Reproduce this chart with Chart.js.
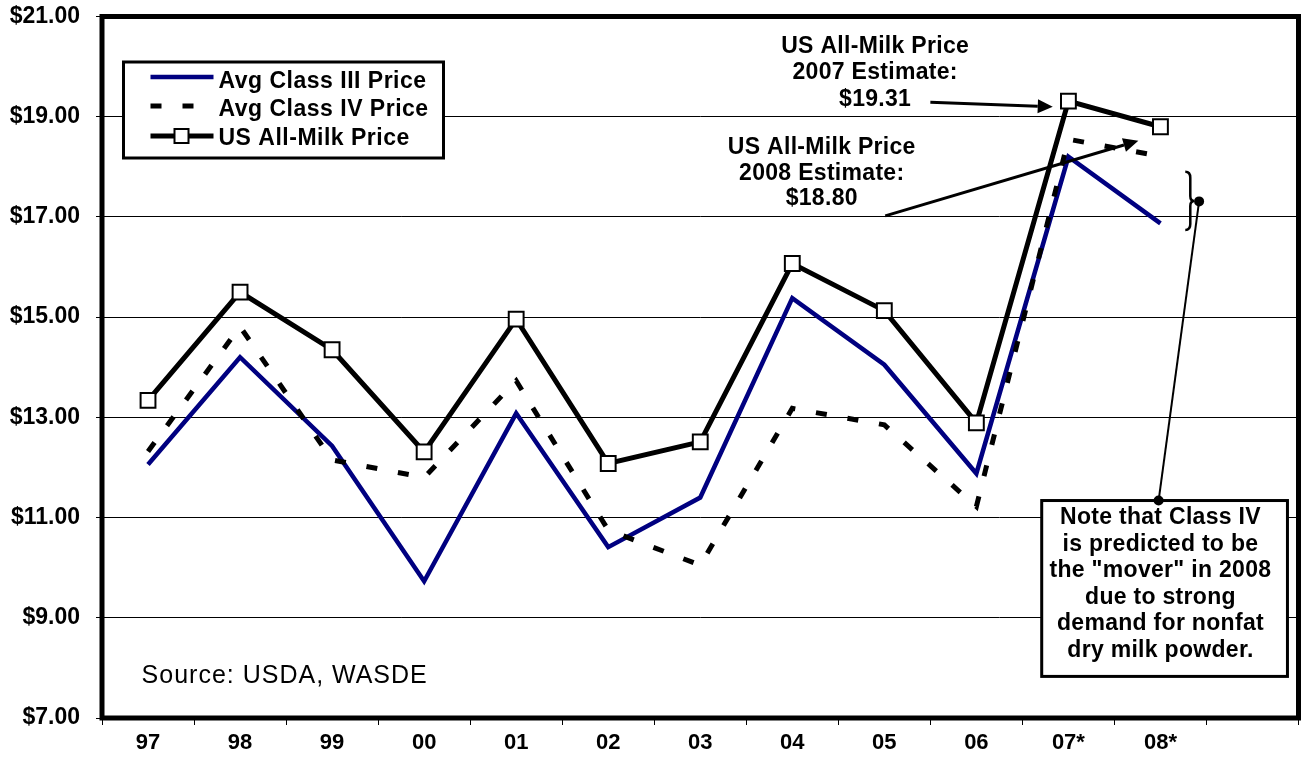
<!DOCTYPE html>
<html>
<head>
<meta charset="utf-8">
<script src="https://cdn.jsdelivr.net/npm/chart.js"></script>
<style>
html,body{margin:0;padding:0;background:#fff;overflow:hidden;}
#wrap{width:1301px;height:761px;overflow:hidden;}
canvas{display:block;}
</style>
</head>
<body>
<div id="wrap"><canvas id="c" width="1311" height="761"></canvas></div>
<script>
// ---- data ----
const categories = ['97','98','99','00','01','02','03','04','05','06','07*','08*',''];
const classIII = [12.06,14.20,12.43,9.73,13.08,10.41,11.40,15.38,14.05,11.88,18.20,16.87,null];
const classIV  = [12.32,14.81,12.15,11.80,13.73,10.75,10.05,13.18,12.85,11.22,18.55,18.21,null];
const allMilk  = [13.34,15.50,14.35,12.31,14.96,12.08,12.51,16.07,15.13,12.89,19.31,18.80,null];
const seriesNames = ['Avg Class III Price','Avg Class IV Price','US All-Milk Price'];
const yTicks = [7,9,11,13,15,17,19,21];

const note1 = ['US All-Milk Price','2007 Estimate:','$19.31'];
const note2 = ['US All-Milk Price','2008 Estimate:','$18.80'];
const noteBox = ['Note that Class IV','is predicted to be','the "mover" in 2008','due to strong','demand for nonfat','dry milk powder.'];
const sourceText = 'Source: USDA, WASDE';

const FONT = '"Liberation Sans", Arial, Helvetica, sans-serif';

const overlay = {
  id: 'overlay',
  afterDraw(chart) {
    const ctx = chart.ctx, ca = chart.chartArea;
    const xs = chart.scales.x, ys = chart.scales.y;
    const X = v => xs.getPixelForValue(v), Y = v => ys.getPixelForValue(v);
    ctx.save();
    // frame
    ctx.strokeStyle = '#000'; ctx.lineWidth = 5; ctx.setLineDash([]);
    ctx.strokeRect(ca.left, ca.top, ca.right - ca.left, ca.bottom - ca.top);

    // legend
    const lx = ca.left + 21.5, ly = ca.top + 45.5;
    ctx.fillStyle = '#fff'; ctx.fillRect(lx, ly, 320, 96);
    ctx.lineWidth = 3; ctx.strokeStyle = '#000'; ctx.strokeRect(lx, ly, 320, 96);
    const ds = chart.data.datasets;
    const rows = [ly + 20, ly + 48, ly + 77];
    ctx.font = 'bold 23px ' + FONT; ctx.textBaseline = 'middle'; ctx.textAlign = 'left';
    try { ctx.letterSpacing = '0.5px'; } catch (e) {}
    [0,1,2].forEach((di, k) => {
      const d = ds[di];
      const sy = rows[k] - (k === 0 ? 5 : (k === 1 ? 4 : 3));
      ctx.save();
      ctx.strokeStyle = d.borderColor; ctx.lineWidth = d.borderWidth;
      ctx.setLineDash(d.borderDash || []);
      ctx.lineCap = 'butt';
      ctx.beginPath(); ctx.moveTo(lx + 27, sy); ctx.lineTo(lx + 90, sy); ctx.stroke();
      ctx.restore();
      if (d.pointRadius) {
        ctx.fillStyle = '#fff'; ctx.strokeStyle = '#000'; ctx.lineWidth = 2;
        ctx.fillRect(lx + 51, sy - 7, 14, 14); ctx.strokeRect(lx + 51, sy - 7, 14, 14);
      }
      ctx.fillStyle = '#000';
      ctx.fillText(d.label, lx + 95, rows[k]);
    });

    // text annotations
    ctx.fillStyle = '#000'; ctx.textAlign = 'center'; ctx.textBaseline = 'middle';
    ctx.font = 'bold 23px ' + FONT;
    try { ctx.letterSpacing = '0.3px'; } catch (e) {}
    const drawLines = (lines, cx, cy, lh) => lines.forEach((t, i) => ctx.fillText(t, cx, cy + i * lh));
    drawLines(note1, X(7.9), Y(20.40), 26.3);
    drawLines(note2, X(7.32), Y(18.38), 25.5);

    // arrows
    const arrow = (x1, y1, x2, y2) => {
      const a = Math.atan2(y2 - y1, x2 - x1), L = 15, W = 7;
      ctx.strokeStyle = '#000'; ctx.lineWidth = 3;
      ctx.beginPath(); ctx.moveTo(x1, y1);
      ctx.lineTo(x2 - L * Math.cos(a), y2 - L * Math.sin(a)); ctx.stroke();
      ctx.fillStyle = '#000'; ctx.beginPath();
      ctx.moveTo(x2, y2);
      ctx.lineTo(x2 - L * Math.cos(a) + W * Math.sin(a), y2 - L * Math.sin(a) - W * Math.cos(a));
      ctx.lineTo(x2 - L * Math.cos(a) - W * Math.sin(a), y2 - L * Math.sin(a) + W * Math.cos(a));
      ctx.closePath(); ctx.fill();
    };
    arrow(X(8.5), Y(19.29), X(9.83), Y(19.20));
    arrow(X(8.01), Y(17.02), X(10.76), Y(18.52));

    // brace
    const bx = X(11.27), bt = Y(17.90), bb = Y(16.74), bm = (bt + bb) / 2;
    ctx.strokeStyle = '#000'; ctx.lineWidth = 2.5;
    ctx.beginPath();
    ctx.moveTo(bx, bt);
    ctx.quadraticCurveTo(bx + 5, bt, bx + 5, bt + 6);
    ctx.lineTo(bx + 5, bm - 5);
    ctx.quadraticCurveTo(bx + 5, bm, bx + 9, bm);
    ctx.quadraticCurveTo(bx + 5, bm, bx + 5, bm + 5);
    ctx.lineTo(bx + 5, bb - 6);
    ctx.quadraticCurveTo(bx + 5, bb, bx, bb);
    ctx.stroke();

    // connector
    const d1x = X(11.42), d1y = Y(17.31), d2x = X(10.98), d2y = Y(11.34);
    ctx.lineWidth = 2; ctx.beginPath(); ctx.moveTo(d1x, d1y); ctx.lineTo(d2x, d2y); ctx.stroke();
    ctx.fillStyle = '#000';
    ctx.beginPath(); ctx.arc(d1x, d1y, 5, 0, Math.PI * 2); ctx.fill();

    // note box
    const nx1 = X(9.71), nx2 = X(12.38), ny1 = Y(11.34), ny2 = Y(7.83);
    ctx.fillStyle = '#fff'; ctx.fillRect(nx1, ny1, nx2 - nx1, ny2 - ny1);
    ctx.strokeStyle = '#000'; ctx.lineWidth = 3; ctx.strokeRect(nx1, ny1, nx2 - nx1, ny2 - ny1);
    ctx.beginPath(); ctx.arc(d2x, d2y, 5, 0, Math.PI * 2); ctx.fillStyle = '#000'; ctx.fill();
    ctx.fillStyle = '#000'; ctx.font = 'bold 23px ' + FONT;
    drawLines(noteBox, X(11.0), Y(11.0), 26.6);

    // source
    ctx.font = '25px ' + FONT; ctx.textAlign = 'left';
    try { ctx.letterSpacing = '1px'; } catch (e) {}
    ctx.fillText(sourceText, X(-0.07), Y(7.84));
    ctx.restore();
  }
};

new Chart(document.getElementById('c'), {
  type: 'line',
  data: {
    labels: categories,
    datasets: [
      { label: seriesNames[0], data: classIII, borderColor: '#000080', backgroundColor: '#000080',
        borderWidth: 4.5, pointRadius: 0, tension: 0, order: 2, borderJoinStyle: 'miter', fill: false },
      { label: seriesNames[1], data: classIV, borderColor: '#000', backgroundColor: '#000',
        borderWidth: 5, borderDash: [11, 21], pointRadius: 0, tension: 0, order: 1, borderCapStyle: 'butt', fill: false },
      { label: seriesNames[2], data: allMilk, borderColor: '#000', backgroundColor: '#fff',
        borderWidth: 5, pointStyle: 'rect', pointRadius: 10.5, pointBackgroundColor: '#fff',
        pointBorderColor: '#000', pointBorderWidth: 2, tension: 0, order: 0, fill: false }
    ]
  },
  options: {
    responsive: false,
    animation: false,
    devicePixelRatio: 1,
    layout: { padding: { top: 16.5, right: 3, left: 0, bottom: 0 } },
    plugins: { legend: { display: false }, tooltip: { enabled: false } },
    scales: {
      x: {
        type: 'category', offset: true,
        grid: { offset: true, drawOnChartArea: false, drawTicks: true, tickLength: 7, color: '#000', lineWidth: 1 },
        border: { display: false },
        ticks: { color: '#000', font: { family: FONT, size: 22, weight: 'bold' }, padding: 5, maxRotation: 0, autoSkip: false },
        afterFit: s => { s.height = 43; s.paddingLeft = 0; s.paddingRight = 0; }
      },
      y: {
        min: 7, max: 21,
        afterBuildTicks: s => { s.ticks = yTicks.map(v => ({ value: v })); },
        grid: { color: '#000', lineWidth: 1, drawTicks: true, tickLength: 6 },
        border: { display: false },
        ticks: { color: '#000', font: { family: FONT, size: 23, weight: 'bold' }, padding: 16,
                 callback: v => '$' + Number(v).toFixed(2) },
        afterFit: s => { s.width = 102; s.paddingTop = 0; s.paddingBottom = 0; }
      }
    }
  },
  plugins: [overlay]
});
</script>
</body>
</html>
